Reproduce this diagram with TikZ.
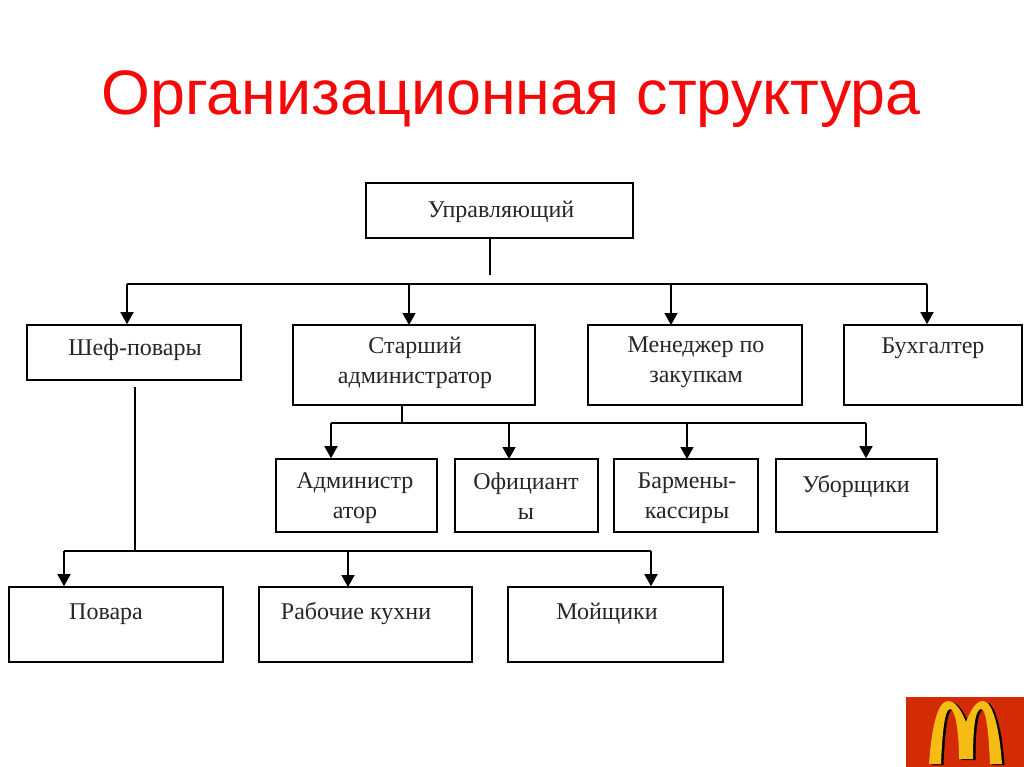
\documentclass[tikz,border=0pt]{standalone}
\usepackage{fontspec}
\setmainfont{Liberation Serif}
\newfontfamily\titlefont{Liberation Sans}
\usetikzlibrary{arrows.meta}
\definecolor{logored}{HTML}{D42A06}
\definecolor{logoyellow}{HTML}{F5BC14}
\tikzset{
  x=1pt,y=-1pt,
  orgbox/.style={draw=black,line width=1.6pt,fill=white,inner sep=0pt,anchor=north west,xshift=-0.8pt,yshift=0.8pt},
  orglabel/.style={font=\fontsize{24}{30}\selectfont,align=center,inner sep=0pt,text=black!85},
  wire/.style={draw=black,line width=1.6pt},
  thinwire/.style={draw=black,line width=1.3pt},
  arrowwire/.style={wire,-{Triangle[length=12pt,width=13pt]}},
}
\newcommand{\orgbox}[6]{%
  \node[orgbox,minimum width=#4-#2,minimum height=#5-#3] (#1) at (#2,#3) {};
  \node[orglabel] (#1t) at (#6) }
\begin{document}
\begin{tikzpicture}
\useasboundingbox (0,0) rectangle (1024,767);
\fill[white] (0,0) rectangle (1024,767);
\node[font=\titlefont\fontsize{62.8}{70}\selectfont,text={rgb,255:red,245;green,8;blue,8},inner sep=0pt] (title) at (511,99) {Организационная структура};

\orgbox{top}{366}{183}{633}{238}{501,212}{Управляющий};
\orgbox{chef}{27}{325}{241}{380}{135,350}{Шеф-повары};
\orgbox{sen}{293}{325}{535}{405}{415,363}{Старший\\администратор};
\orgbox{mgr}{588}{325}{802}{405}{696,362.5}{Менеджер по\\закупкам};
\orgbox{acc}{844}{325}{1022}{405}{933,348}{Бухгалтер};
\orgbox{adm}{276}{459}{437}{532}{355,498.5}{Администр\\атор};
\orgbox{wait}{455}{459}{598}{532}{526,496}{Официант\\ы};
\orgbox{bar}{614}{459}{758}{532}{687,498.5}{Бармены-\\кассиры};
\orgbox{clean}{776}{459}{937}{532}{856,486}{Уборщики};
\orgbox{cook}{9}{587}{223}{662}{106,614}{Повара};
\orgbox{kit}{259}{587}{472}{662}{356,613}{Рабочие кухни};
\orgbox{wash}{508}{587}{723}{662}{607,614}{Мойщики};

% first level
\coordinate (stemA) at (490,275);
\coordinate (busAl) at (127,284);
\coordinate (busAr) at (927,284);
\draw[thinwire] (top.south -| stemA) -- (stemA);
\draw[wire] (busAl) -- (busAr);
\draw[arrowwire] (busAl) -- (busAl |- chef.north);
\draw[arrowwire] (409,284) -- (409,325);
\draw[arrowwire] (671,284) -- (671,325);
\draw[arrowwire] (busAr) -- (busAr |- acc.north);

% second level
\coordinate (stemB) at (402,423);
\coordinate (busBl) at (331,423);
\coordinate (busBr) at (866,423);
\draw[thinwire] (stemB |- sen.south) -- (stemB);
\draw[wire] (busBl) -- (busBr);
\draw[arrowwire] (busBl) -- (busBl |- adm.north);
\draw[arrowwire] (509,423) -- (509,459);
\draw[arrowwire] (687,423) -- (687,459);
\draw[arrowwire] (busBr) -- (busBr |- clean.north);

% third level
\coordinate (stemC) at (135,551);
\coordinate (busCl) at (64,551);
\coordinate (busCr) at (651,551);
\draw[thinwire] (stemC |- chef.south) ++(0,6) -- (stemC);
\draw[wire] (busCl) -- (busCr);
\draw[arrowwire] (busCl) -- (busCl |- cook.north);
\draw[arrowwire] (348,551) -- (348,587);
\draw[arrowwire] (busCr) -- (busCr |- wash.north);

% logo
\fill[logored] (906,697) rectangle (1024,767);
\foreach \dx/\dy/\col in {2.5/1/black,0/0/logoyellow}{
\fill[\col,shift={(\dx,\dy)}] (929,764) .. controls (931,735) and (936,701) .. (948,701)
  .. controls (956,701) and (962,712) .. (966,722)
  .. controls (970,712) and (975,701) .. (983,701)
  .. controls (994,701) and (1000,735) .. (1002,764)
  -- (990,764) .. controls (989,740) and (987,709) .. (981,709)
  .. controls (975,709) and (973,730) .. (973,759)
  -- (959,759) .. controls (959,730) and (955,709) .. (950,709)
  .. controls (944,709) and (942,740) .. (941,764) -- cycle;
}
\end{tikzpicture}
\end{document}
